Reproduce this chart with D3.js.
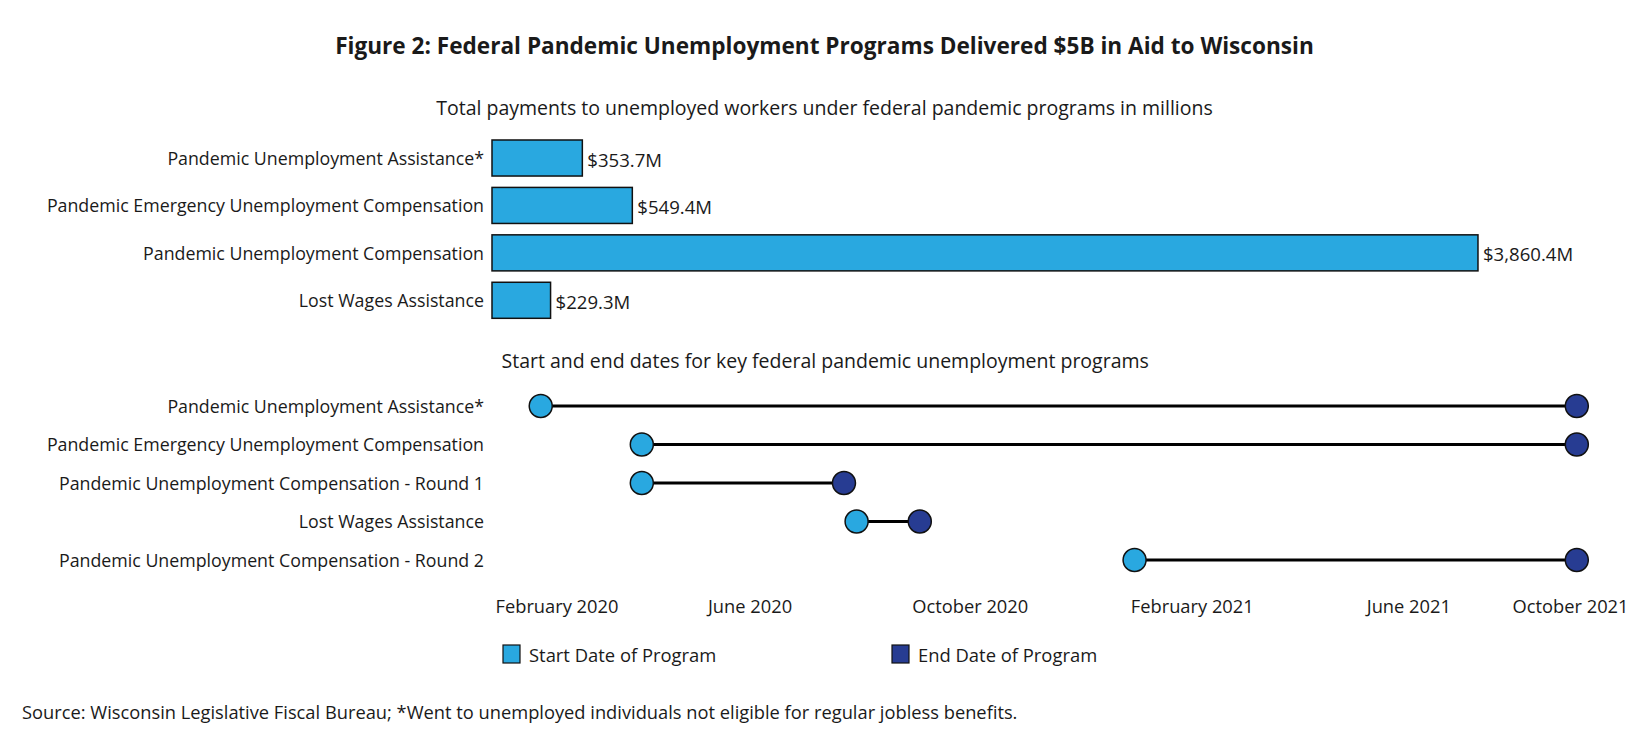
<!DOCTYPE html>
<html><head><meta charset="utf-8">
<script src="https://cdn.jsdelivr.net/npm/d3@7"></script>
<style>
body{margin:0;background:#fff}
text{font-family:"Open Sans",sans-serif;fill:#1a1a1a}
</style></head>
<body><svg id="c" width="1649" height="749"></svg>
<script>
// ---- data ----
const payPrograms = ["Pandemic Unemployment Assistance*","Pandemic Emergency Unemployment Compensation","Pandemic Unemployment Compensation","Lost Wages Assistance"];
const payValues = [353.7, 549.4, 3860.4, 229.3];
const payLabels = ["$353.7M","$549.4M","$3,860.4M","$229.3M"];

const datePrograms = ["Pandemic Unemployment Assistance*","Pandemic Emergency Unemployment Compensation","Pandemic Unemployment Compensation - Round 1","Lost Wages Assistance","Pandemic Unemployment Compensation - Round 2"];
const startDates = ["2020-02-08","2020-04-04","2020-04-04","2020-08-01","2021-01-02"];
const endDates = ["2021-09-04","2021-09-04","2020-07-25","2020-09-05","2021-09-04"];

const tickDates = ["2020-02-01","2020-06-01","2020-10-01","2021-02-01","2021-06-01","2021-10-01"];
const tickLabels = ["February 2020","June 2020","October 2020","February 2021","June 2021","October 2021"];

const legendLabels = ["Start Date of Program","End Date of Program"];

const title = "Figure 2: Federal Pandemic Unemployment Programs Delivered $5B in Aid to Wisconsin";
const sub1 = "Total payments to unemployed workers under federal pandemic programs in millions";
const sub2 = "Start and end dates for key federal pandemic unemployment programs";
const source = "Source: Wisconsin Legislative Fiscal Bureau; *Went to unemployed individuals not eligible for regular jobless benefits.";

// ---- styles ----
const LIGHT = "#29a8e0", DARK = "#273c92";
const FS = "17.8px";
const W = 1649, H = 749;
const paneLeft = 492, paneRight = 1649, labelRight = 484, labelMaxRight = 1628;

const svg = d3.select("#c");
const parse = d3.utcParse("%Y-%m-%d");

// Title
svg.append("text").attr("x", 824.5).attr("y", 45).attr("text-anchor","middle").attr("dominant-baseline","central")
  .style("font-size","22.6px").style("font-weight","700").text(title);
svg.append("text").attr("x", 824.5).attr("y", 107).attr("text-anchor","middle").attr("dominant-baseline","central")
  .style("font-size", "19.5px").text(sub1);

// ---- bar chart ----
const xb = d3.scaleLinear().domain([0, 4530]).range([paneLeft, paneRight]);
const yb = d3.scaleBand().domain(payPrograms).range([134.3, 324]).paddingInner(0.24).paddingOuter(0.12);

const barG = svg.append("g");
barG.selectAll("rect").data(payPrograms).join("rect")
  .attr("x", xb(0)).attr("y", d => yb(d))
  .attr("width", (d,i) => xb(payValues[i]) - xb(0)).attr("height", yb.bandwidth())
  .attr("fill", LIGHT).attr("stroke", "#111").attr("stroke-width", 1.5);
barG.selectAll("text.val").data(payPrograms).join("text").attr("class","val")
  .attr("x", (d,i) => xb(payValues[i]) + 5).attr("y", d => yb(d) + yb.bandwidth()/2 + 1)
  .attr("dominant-baseline","central").style("font-size", "18.6px").text((d,i) => payLabels[i]);

const yAxisB = d3.axisLeft(yb).tickSize(0).tickPadding(0);
const gyb = svg.append("g").attr("transform", `translate(${labelRight},1)`).call(yAxisB);
gyb.select(".domain").remove();
gyb.selectAll("text").style("font-size", FS).style("font-family", '"Open Sans",sans-serif').attr("fill","#1a1a1a");

// ---- dumbbell chart ----
svg.append("text").attr("x", 501.5).attr("y", 360.5).attr("dominant-baseline","central")
  .style("font-size", "19.5px").text(sub2);

const xd = d3.scaleUtc().domain([parse("2020-01-12"), parse("2021-10-14")]).range([paneLeft, paneRight]);
const yd = d3.scalePoint().domain(datePrograms).range([406, 560]);

const dg = svg.append("g");
dg.selectAll("line").data(datePrograms).join("line")
  .attr("x1", (d,i) => xd(parse(startDates[i]))).attr("x2", (d,i) => xd(parse(endDates[i])))
  .attr("y1", d => yd(d)).attr("y2", d => yd(d))
  .attr("stroke", "#000").attr("stroke-width", 3);
dg.selectAll("circle.s").data(datePrograms).join("circle").attr("class","s")
  .attr("cx", (d,i) => xd(parse(startDates[i]))).attr("cy", d => yd(d)).attr("r", 11.5)
  .attr("fill", LIGHT).attr("stroke", "#111").attr("stroke-width", 1.5);
dg.selectAll("circle.e").data(datePrograms).join("circle").attr("class","e")
  .attr("cx", (d,i) => xd(parse(endDates[i]))).attr("cy", d => yd(d)).attr("r", 11.5)
  .attr("fill", DARK).attr("stroke", "#111").attr("stroke-width", 1.5);

const yAxisD = d3.axisLeft(yd).tickSize(0).tickPadding(0);
const gyd = svg.append("g").attr("transform", `translate(${labelRight},0.5)`).call(yAxisD);
gyd.select(".domain").remove();
gyd.selectAll("text").style("font-size", FS).style("font-family", '"Open Sans",sans-serif').attr("fill","#1a1a1a");

// x axis (dates)
const xAxisD = d3.axisBottom(xd).tickValues(tickDates.map(parse)).tickSize(0).tickPadding(0)
  .tickFormat((d,i) => tickLabels[i]);
const gxd = svg.append("g").attr("transform", "translate(3,605)").call(xAxisD);
gxd.select(".domain").remove();
gxd.selectAll("text").attr("dy", null).attr("dominant-baseline","central")
  .style("font-size", "18.3px").style("font-family", '"Open Sans",sans-serif').attr("fill","#1a1a1a");
// keep edge labels inside the pane
gxd.selectAll(".tick").each(function(d){
  const t = d3.select(this).select("text");
  const w = t.node().getComputedTextLength();
  const cx = xd(d) + 3;
  if (cx - w/2 < paneLeft + 3) t.attr("x", paneLeft + 3 + w/2 - cx);
  if (cx + w/2 > labelMaxRight) t.attr("x", labelMaxRight - w/2 - cx);
});

// legend
const legX = [503, 892];
const lg = svg.append("g");
legendLabels.forEach((l,i) => {
  const g = lg.append("g").attr("transform", `translate(${legX[i]},645)`);
  g.append("rect").attr("x",0).attr("y",0).attr("width",17).attr("height",18)
    .attr("fill", i ? DARK : LIGHT).attr("stroke","#111").attr("stroke-width",1.2);
  g.append("text").attr("x", 26).attr("y", 9.5).attr("dominant-baseline","central").style("font-size", "18.4px").text(l);
});

// source
svg.append("text").attr("x", 22).attr("y", 711).attr("dominant-baseline","central")
  .style("font-size", "18.3px").text(source);
</script></body></html>
